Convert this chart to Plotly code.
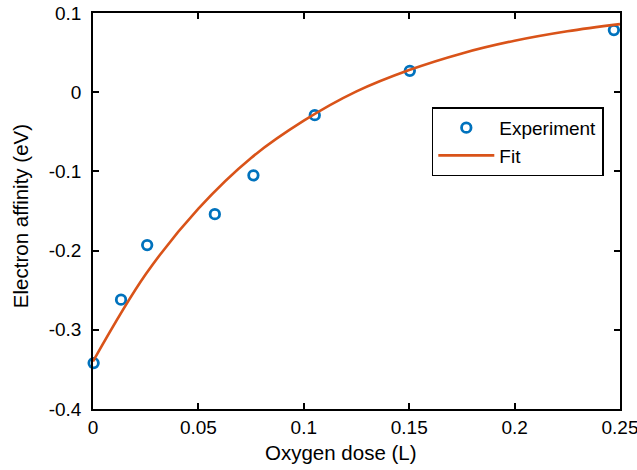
import plotly.graph_objects as go

# Measured electron affinity versus oxygen exposure
dose = [0.0003, 0.0133, 0.0257, 0.0578, 0.0761, 0.1052, 0.1503, 0.2471]
affinity = [-0.342, -0.262, -0.193, -0.154, -0.105, -0.029, 0.027, 0.0785]

# Fitted curve sampled along the dose axis
fit_dose = [0.0, 0.025, 0.05, 0.075, 0.1, 0.125, 0.15, 0.175, 0.2, 0.225, 0.25]
fit_affinity = [-0.340, -0.230, -0.147, -0.083, -0.036, 0.001, 0.028, 0.049, 0.065, 0.077, 0.086]

x_ticks = [0, 0.05, 0.1, 0.15, 0.2, 0.25]
x_tick_text = ["0", "0.05", "0.1", "0.15", "0.2", "0.25"]
y_ticks = [-0.4, -0.3, -0.2, -0.1, 0, 0.1]
y_tick_text = ["-0.4", "-0.3", "-0.2", "-0.1", "0", "0.1"]

FONT = "Liberation Sans, Arial, Helvetica, sans-serif"
BLUE = "#0072BD"
ORANGE = "#D95319"

fig = go.Figure()
fig.add_trace(go.Scatter(
    x=dose, y=affinity, mode="markers", name="Experiment", legendgroup="exp",
    marker=dict(symbol="circle-open", size=9.5, color=BLUE, line=dict(width=2.8, color=BLUE)),
    cliponaxis=False,
))
fig.add_trace(go.Scatter(
    x=fit_dose, y=fit_affinity, mode="lines", name="Fit", legendgroup="fit",
    line=dict(color=ORANGE, width=2.6, shape="spline"),
))

axis_common = dict(
    showgrid=False, zeroline=False, showline=True, linecolor="black", linewidth=1.6,
    mirror="allticks", ticks="inside", ticklen=6, tickwidth=1.6, tickcolor="black",
    tickfont=dict(family=FONT, size=19, color="black"),
    automargin=False, ticklabeloverflow="allow",
)

fig.update_xaxes(range=[0, 0.25], tickvals=x_ticks, ticktext=x_tick_text,
                 ticklabelstandoff=0, **axis_common)
fig.update_yaxes(range=[-0.4, 0.1], tickvals=y_ticks, ticktext=y_tick_text,
                 ticklabelstandoff=6, **axis_common)

fig.add_annotation(text="Oxygen dose (L)", xref="paper", yref="paper",
                   x=0.4715, y=-0.111, xanchor="center", yanchor="middle",
                   showarrow=False, font=dict(family=FONT, size=20.5, color="black"))
fig.add_annotation(text="Electron affinity (eV)", xref="paper", yref="paper",
                   x=-0.1385, y=0.487, xanchor="center", yanchor="middle", textangle=-90,
                   showarrow=False, font=dict(family=FONT, size=20.5, color="black"))

fig.update_layout(
    width=637, height=470,
    margin=dict(l=93, r=17, t=13, b=61),
    paper_bgcolor="white", plot_bgcolor="white",
    font=dict(family=FONT, size=19, color="black"),
    showlegend=True,
    legend=dict(x=0.6427, y=0.762, xanchor="left", yanchor="top",
                bgcolor="white", bordercolor="black", borderwidth=1.6,
                itemwidth=56, traceorder="grouped", tracegroupgap=0,
                font=dict(family=FONT, size=19, color="black")),
)

fig.write_html("out.html")
